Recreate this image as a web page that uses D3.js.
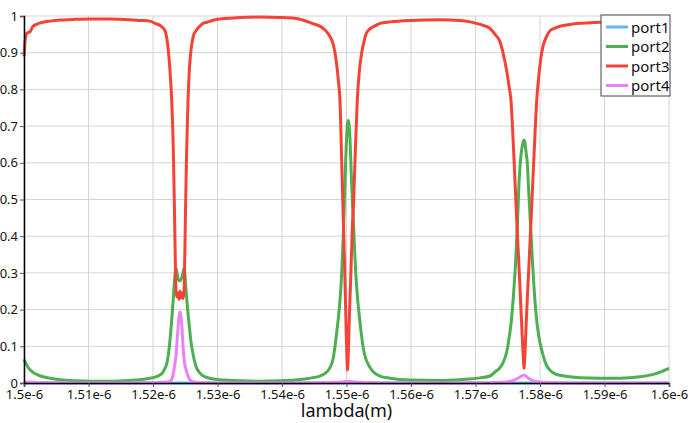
<!DOCTYPE html>
<html>
<head>
<meta charset="utf-8">
<script src="https://cdn.jsdelivr.net/npm/d3@7"></script>
<style>
  body { margin: 0; background: #fff; }
  svg text { font-family: "Noto Sans", "Open Sans", sans-serif; }
</style>
</head>
<body>
<svg id="chart"></svg>
<script>
const w = 691;
const h = 423;

// wavelength samples, nm
const lambda = [
  1500.00, 1500.16, 1500.39, 1500.62, 1500.93, 1501.40, 1502.02, 1502.95, 1504.03, 1505.58,
  1507.91, 1510.23, 1513.33, 1516.43, 1517.98, 1519.53, 1520.31, 1521.09, 1521.40, 1521.71,
  1522.09, 1522.37, 1522.64, 1522.90, 1523.15, 1523.30, 1523.44, 1523.57, 1523.72, 1523.88,
  1524.03, 1524.19, 1524.34, 1524.50, 1524.65, 1524.81, 1524.93, 1525.07, 1525.22, 1525.43,
  1525.66, 1525.89, 1526.25, 1526.67, 1527.13, 1527.75, 1528.37, 1529.61, 1531.16, 1533.49,
  1536.59, 1539.69, 1542.02, 1543.57, 1544.65, 1545.89, 1546.67, 1547.44, 1547.91, 1548.22,
  1548.53, 1548.76, 1548.99, 1549.26, 1549.50, 1549.69, 1549.84, 1549.97, 1550.08, 1550.14,
  1550.26, 1550.39, 1550.54, 1550.68, 1550.90, 1551.12, 1551.40, 1551.67, 1551.94, 1552.36,
  1552.71, 1553.02, 1553.64, 1554.42, 1555.19, 1556.74, 1559.84, 1564.50, 1567.60, 1569.15,
  1570.70, 1572.25, 1573.02, 1573.80, 1574.26, 1574.84, 1575.19, 1575.50, 1575.89, 1576.25,
  1576.51, 1576.79, 1577.05, 1577.29, 1577.44, 1577.52, 1577.64, 1577.83, 1578.03, 1578.23,
  1578.50, 1578.76, 1579.15, 1579.49, 1579.84, 1580.26, 1581.04, 1581.55, 1582.33, 1583.10,
  1584.65, 1586.20, 1589.30, 1592.40, 1595.50, 1597.83, 1600.00
];

const port1 = [
  0, 0, 0, 0, 0, 0, 0, 0, 0, 0,
  0, 0, 0, 0, 0, 0, 0, 0, 0, 0,
  0, 0, 0, 0, 0, 0, 0, 0, 0, 0,
  0, 0, 0, 0, 0, 0, 0, 0, 0, 0,
  0, 0, 0, 0, 0, 0, 0, 0, 0, 0,
  0, 0, 0, 0, 0, 0, 0, 0, 0, 0,
  0, 0, 0, 0, 0, 0, 0, 0, 0, 0,
  0, 0, 0, 0, 0, 0, 0, 0, 0, 0,
  0, 0, 0, 0, 0, 0, 0, 0, 0, 0,
  0, 0, 0, 0, 0, 0, 0, 0, 0, 0,
  0, 0, 0, 0, 0, 0, 0, 0, 0, 0,
  0, 0, 0, 0, 0, 0, 0, 0, 0, 0,
  0, 0, 0, 0, 0, 0, 0
];

const port2 = [
  0.065, 0.058, 0.050, 0.043, 0.036, 0.029, 0.023, 0.017, 0.013, 0.009,
  0.006, 0.005, 0.005, 0.007, 0.009, 0.013, 0.016, 0.022, 0.026, 0.035,
  0.050, 0.075, 0.118, 0.172, 0.230, 0.270, 0.300, 0.312, 0.300, 0.285,
  0.279, 0.278, 0.282, 0.290, 0.300, 0.313, 0.300, 0.265, 0.232, 0.190,
  0.150, 0.112, 0.075, 0.045, 0.030, 0.020, 0.015, 0.010, 0.008, 0.006,
  0.005, 0.006, 0.008, 0.011, 0.014, 0.019, 0.026, 0.042, 0.065, 0.100,
  0.145, 0.180, 0.225, 0.300, 0.400, 0.510, 0.590, 0.650, 0.690, 0.705,
  0.715, 0.705, 0.665, 0.600, 0.500, 0.420, 0.310, 0.240, 0.190, 0.125,
  0.085, 0.065, 0.042, 0.026, 0.019, 0.013, 0.008, 0.007, 0.009, 0.011,
  0.014, 0.019, 0.030, 0.042, 0.055, 0.085, 0.120, 0.160, 0.240, 0.340,
  0.440, 0.560, 0.620, 0.650, 0.660, 0.662, 0.658, 0.630, 0.600, 0.530,
  0.440, 0.355, 0.240, 0.170, 0.125, 0.090, 0.047, 0.035, 0.025, 0.021,
  0.017, 0.014, 0.013, 0.013, 0.017, 0.025, 0.040
];

const port3 = [
  0.890, 0.930, 0.952, 0.955, 0.957, 0.972, 0.978, 0.983, 0.986, 0.989,
  0.991, 0.992, 0.992, 0.990, 0.988, 0.986, 0.980, 0.974, 0.970, 0.965,
  0.945, 0.907, 0.850, 0.770, 0.635, 0.500, 0.350, 0.250, 0.235, 0.245,
  0.228, 0.250, 0.232, 0.245, 0.230, 0.250, 0.350, 0.500, 0.635, 0.770,
  0.860, 0.907, 0.945, 0.960, 0.970, 0.980, 0.983, 0.990, 0.993, 0.996,
  0.997, 0.996, 0.994, 0.987, 0.980, 0.972, 0.962, 0.944, 0.925, 0.900,
  0.860, 0.820, 0.770, 0.600, 0.450, 0.330, 0.220, 0.130, 0.060, 0.035,
  0.070, 0.150, 0.230, 0.300, 0.420, 0.500, 0.650, 0.770, 0.840, 0.900,
  0.930, 0.950, 0.965, 0.973, 0.980, 0.984, 0.988, 0.990, 0.988, 0.984,
  0.977, 0.966, 0.950, 0.930, 0.900, 0.850, 0.810, 0.770, 0.640, 0.500,
  0.400, 0.300, 0.200, 0.110, 0.060, 0.040, 0.070, 0.150, 0.230, 0.300,
  0.400, 0.500, 0.650, 0.770, 0.840, 0.900, 0.945, 0.960, 0.967, 0.972,
  0.977, 0.980, 0.983, 0.985, 0.986, 0.986, 0.986
];

const port4 = [
  0.004, 0.003, 0.003, 0.002, 0.002, 0.002, 0.001, 0.001, 0.001, 0.001,
  0, 0, 0, 0, 0.001, 0.001, 0.001, 0.002, 0.002, 0.002,
  0.003, 0.003, 0.005, 0.010, 0.026, 0.040, 0.058, 0.075, 0.112, 0.150,
  0.180, 0.194, 0.180, 0.150, 0.100, 0.068, 0.050, 0.040, 0.030, 0.020,
  0.010, 0.006, 0.003, 0.002, 0.001, 0.001, 0.001, 0, 0, 0,
  0, 0, 0, 0, 0.001, 0.001, 0.001, 0.001, 0.002, 0.002,
  0.002, 0.002, 0.003, 0.003, 0.003, 0.004, 0.004, 0.004, 0.004, 0.004,
  0.004, 0.004, 0.004, 0.004, 0.003, 0.003, 0.003, 0.002, 0.002, 0.002,
  0.001, 0.001, 0.001, 0.001, 0, 0, 0, 0, 0, 0.001,
  0.001, 0.001, 0.001, 0.002, 0.002, 0.003, 0.004, 0.005, 0.007, 0.010,
  0.012, 0.015, 0.018, 0.020, 0.021, 0.021, 0.021, 0.019, 0.016, 0.013,
  0.010, 0.007, 0.005, 0.004, 0.003, 0.002, 0.002, 0.001, 0.001, 0.001,
  0, 0, 0, 0, 0, 0, 0
];

const seriesNames = ['port1', 'port2', 'port3', 'port4'];
const seriesColors = ['#64b5f6', '#4caf50', '#f44336', '#ea80fc'];
const seriesValues = [port1, port2, port3, port4];

const xTicks = [1.5e-6, 1.51e-6, 1.52e-6, 1.53e-6, 1.54e-6, 1.55e-6, 1.56e-6, 1.57e-6, 1.58e-6, 1.59e-6, 1.6e-6];
const xTickLabels = ['1.5e-6', '1.51e-6', '1.52e-6', '1.53e-6', '1.54e-6', '1.55e-6', '1.56e-6', '1.57e-6', '1.58e-6', '1.59e-6', '1.6e-6'];
const yTicks = [0, 0.1, 0.2, 0.3, 0.4, 0.5, 0.6, 0.7, 0.8, 0.9, 1];
const yTickLabels = ['0', '0.1', '0.2', '0.3', '0.4', '0.5', '0.6', '0.7', '0.8', '0.9', '1'];

const margin = {top: 16, right: 22, bottom: 40, left: 24};

const svg = d3.select('#chart')
  .attr('width', w)
  .attr('height', h);

const x = d3.scaleLinear()
  .domain([1.5e-6, 1.6e-6])
  .range([margin.left, w - margin.right]);

const y = d3.scaleLinear()
  .domain([0, 1])
  .range([h - margin.bottom, margin.top]);

// grid
svg.append('g')
  .selectAll('line.vgrid')
  .data(xTicks)
  .enter()
  .append('line')
  .attr('x1', d => x(d)).attr('x2', d => x(d))
  .attr('y1', y(0)).attr('y2', y(1))
  .attr('stroke', '#d4d4d4')
  .attr('stroke-width', 1);

svg.append('g')
  .selectAll('line.hgrid')
  .data(yTicks)
  .enter()
  .append('line')
  .attr('x1', x.range()[0]).attr('x2', x.range()[1])
  .attr('y1', d => y(d)).attr('y2', d => y(d))
  .attr('stroke', '#d4d4d4')
  .attr('stroke-width', 1);

// lines
const line = d3.line()
  .x(d => x(d[0] * 1e-9))
  .y(d => y(d[1]))
  .curve(d3.curveMonotoneX);

seriesValues.forEach((vals, i) => {
  const pts = lambda.map((l, k) => [l, vals[k]]);
  svg.append('path')
    .datum(pts)
    .attr('fill', 'none')
    .attr('stroke', seriesColors[i])
    .attr('stroke-width', 3)
    .attr('stroke-linejoin', 'round')
    .attr('d', line);
});

// axes
const xAxis = svg.append('g')
  .attr('transform', `translate(0,${y(0)})`)
  .call(d3.axisBottom(x).tickValues(xTicks).tickFormat((d, i) => xTickLabels[i]).tickSizeOuter(0).tickSize(4));

const yAxis = svg.append('g')
  .attr('transform', `translate(${x(1.5e-6)},0)`)
  .call(d3.axisLeft(y).tickValues(yTicks).tickFormat((d, i) => yTickLabels[i]).tickSizeOuter(0).tickSize(4).tickPadding(2));

[xAxis, yAxis].forEach(g => {
  g.select('.domain').attr('stroke', '#000').attr('stroke-width', 1.5);
  g.selectAll('.tick line').attr('stroke', '#555');
  g.selectAll('.tick text')
    .attr('fill', '#111')
    .style('font-size', '13px')
    .style('font-family', '"Noto Sans", sans-serif');
});

svg.append('text')
  .attr('x', (x.range()[0] + x.range()[1]) / 2)
  .attr('y', 417)
  .attr('text-anchor', 'middle')
  .attr('fill', '#111')
  .style('font-size', '18px')
  .text('lambda(m)');

// legend
const legend = svg.append('g')
  .attr('transform', 'translate(601,15)');

legend.append('rect')
  .attr('width', 69)
  .attr('height', 81)
  .attr('fill', '#fff')
  .attr('stroke', '#444')
  .attr('stroke-width', 1);

const rows = legend.selectAll('g.row')
  .data(seriesNames)
  .enter()
  .append('g')
  .attr('transform', (d, i) => `translate(0,${12 + i * 19.5})`);

rows.append('line')
  .attr('x1', 5).attr('x2', 27)
  .attr('stroke', (d, i) => seriesColors[i])
  .attr('stroke-width', 3);

rows.append('text')
  .attr('x', 30)
  .attr('y', 5.5)
  .attr('fill', '#111')
  .style('font-size', '15px')
  .text(d => d);
</script>
</body>
</html>
